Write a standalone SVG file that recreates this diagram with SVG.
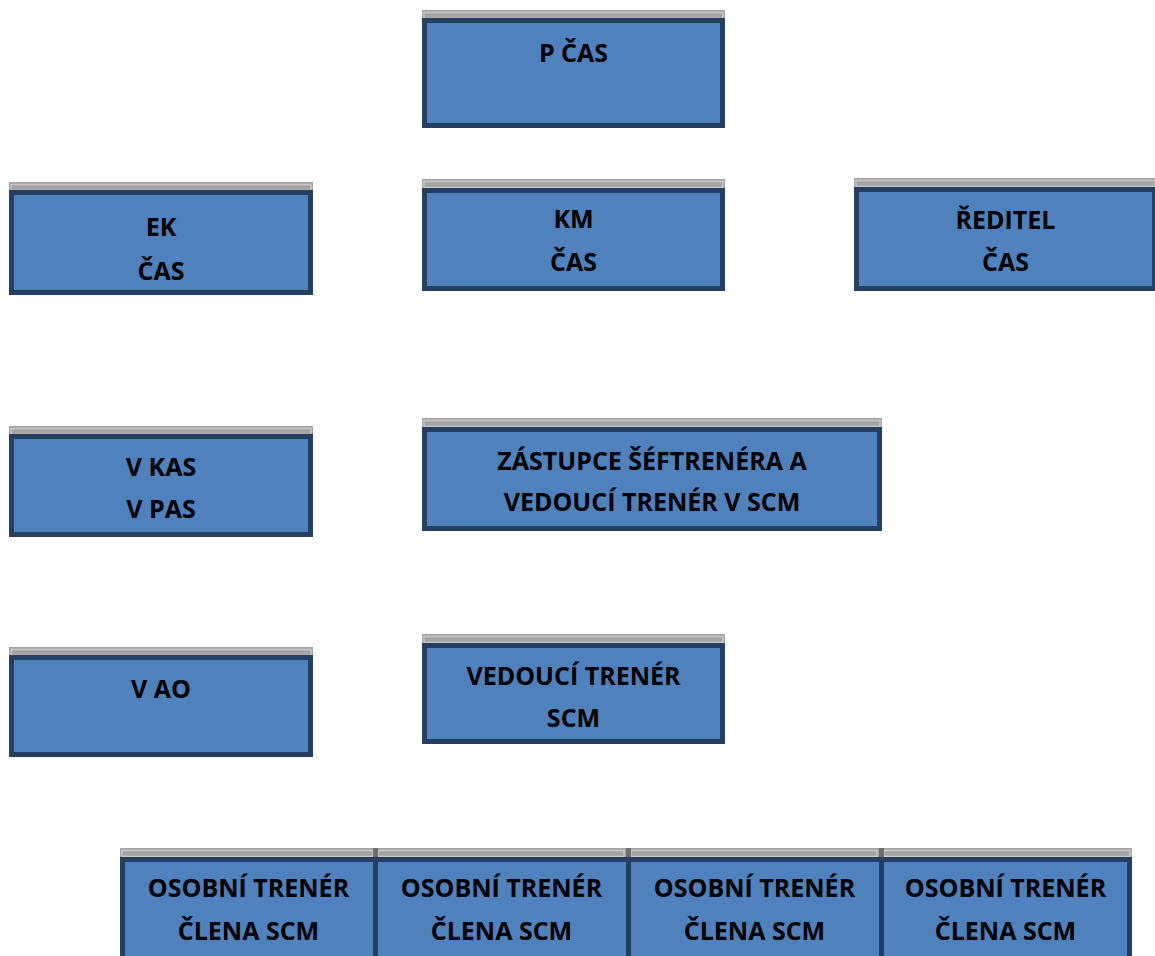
<svg xmlns="http://www.w3.org/2000/svg" width="1155" height="956" viewBox="0 0 1155 956">
<style>
.band{fill:#A3A3A3}
.bandhi{fill:none;stroke:#C8C8C8;stroke-width:1.5}
.bandsep{fill:#6E6E6E}
.box{fill:#4F81BD;stroke:#243F61;stroke-width:5}
.t{font-family:"Open Sans","Liberation Sans",sans-serif;font-weight:bold;font-size:25px;fill:#000;text-anchor:middle}
</style>
<rect width="1155" height="956" fill="#FFFFFF"/>
<g id="connectors"/>
<g id="n-pcas">
<rect class="band" x="422" y="10" width="303" height="9"/><rect class="bandhi" x="424" y="12.5" width="299" height="6"/>
<rect class="box" x="424.5" y="20.5" width="298" height="105"/>
<text class="t" x="573.5" y="62">P ČAS</text>
</g>
<g id="n-ek">
<rect class="band" x="9" y="182" width="304" height="9"/><rect class="bandhi" x="11" y="184.5" width="300" height="6"/>
<rect class="box" x="11.5" y="192.5" width="299" height="100"/>
<text class="t" x="161" y="236">EK</text><text class="t" x="161" y="280">ČAS</text>
</g>
<g id="n-km">
<rect class="band" x="422" y="179" width="303" height="9"/><rect class="bandhi" x="424" y="181.5" width="299" height="6"/>
<rect class="box" x="424.5" y="190.5" width="298" height="98"/>
<text class="t" x="573.5" y="228">KM</text><text class="t" x="573.5" y="271">ČAS</text>
</g>
<g id="n-reditel">
<rect class="band" x="854" y="178" width="303" height="9"/><rect class="bandhi" x="856" y="180.5" width="299" height="6"/>
<rect class="box" x="856.5" y="189.5" width="298" height="99"/>
<text class="t" x="1005.5" y="229">ŘEDITEL</text><text class="t" x="1005.5" y="271">ČAS</text>
</g>
<g id="n-vkas">
<rect class="band" x="9" y="426" width="304" height="9"/><rect class="bandhi" x="11" y="428.5" width="300" height="6"/>
<rect class="box" x="11.5" y="436.5" width="299" height="98"/>
<text class="t" x="161" y="476">V KAS</text><text class="t" x="161" y="518">V PAS</text>
</g>
<g id="n-zastupce">
<rect class="band" x="422" y="418" width="460" height="9"/><rect class="bandhi" x="424" y="420.5" width="456" height="6"/>
<rect class="box" x="424.5" y="429.5" width="455" height="99"/>
<text class="t" x="652" y="470">ZÁSTUPCE ŠÉFTRENÉRA A</text><text class="t" x="652" y="511">VEDOUCÍ TRENÉR V SCM</text>
</g>
<g id="n-vao">
<rect class="band" x="9" y="647" width="304" height="9"/><rect class="bandhi" x="11" y="649.5" width="300" height="6"/>
<rect class="box" x="11.5" y="657.5" width="299" height="97"/>
<text class="t" x="161" y="698">V AO</text>
</g>
<g id="n-vedouci">
<rect class="band" x="422" y="634" width="303" height="9"/><rect class="bandhi" x="424" y="636.5" width="299" height="6"/>
<rect class="box" x="424.5" y="645.5" width="298" height="96"/>
<text class="t" x="573.5" y="685">VEDOUCÍ TRENÉR</text><text class="t" x="573.5" y="727">SCM</text>
</g>
<g id="n-osobni1">
<rect class="band" x="120" y="848" width="258" height="9"/><rect class="bandhi" x="122" y="850.5" width="251" height="6"/>
<rect class="box" x="122.5" y="859.5" width="253" height="110"/>
<text class="t" x="248.5" y="897">OSOBNÍ TRENÉR</text><text class="t" x="248.5" y="940">ČLENA SCM</text>
</g>
<g id="n-osobni2">
<rect class="band" x="373" y="848" width="258" height="9"/><rect class="bandhi" x="378" y="850.5" width="246" height="6"/>
<rect class="bandsep" x="373" y="848" width="5" height="9"/>
<rect class="box" x="375.5" y="859.5" width="253" height="110"/>
<text class="t" x="501.5" y="897">OSOBNÍ TRENÉR</text><text class="t" x="501.5" y="940">ČLENA SCM</text>
</g>
<g id="n-osobni3">
<rect class="band" x="626" y="848" width="258" height="9"/><rect class="bandhi" x="631" y="850.5" width="246" height="6"/>
<rect class="bandsep" x="626" y="848" width="5" height="9"/>
<rect class="box" x="628.5" y="859.5" width="253" height="110"/>
<text class="t" x="754.5" y="897">OSOBNÍ TRENÉR</text><text class="t" x="754.5" y="940">ČLENA SCM</text>
</g>
<g id="n-osobni4">
<rect class="band" x="879" y="848" width="253" height="9"/><rect class="bandhi" x="884" y="850.5" width="246" height="6"/>
<rect class="bandsep" x="879" y="848" width="5" height="9"/>
<rect class="box" x="881.5" y="859.5" width="248" height="110"/>
<text class="t" x="1005.5" y="897">OSOBNÍ TRENÉR</text><text class="t" x="1005.5" y="940">ČLENA SCM</text>
</g>
</svg>
